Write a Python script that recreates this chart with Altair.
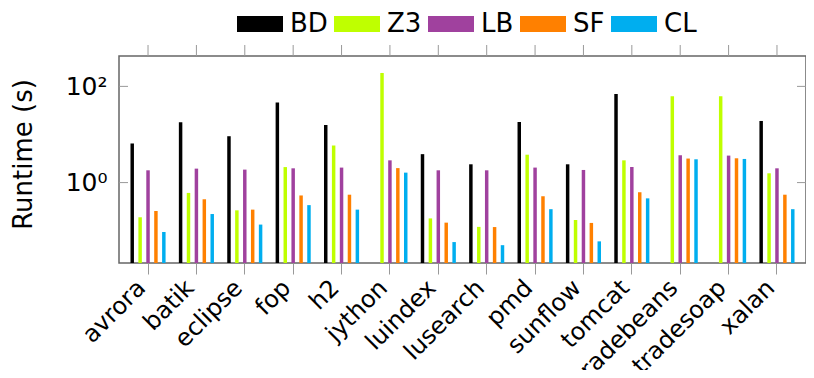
import altair as alt
import pandas as pd

categories = ["avrora", "batik", "eclipse", "fop", "h2", "jython", "luindex",
              "lusearch", "pmd", "sunflow", "tomcat", "tradebeans", "tradesoap", "xalan"]
series = ["BD", "Z3", "LB", "SF", "CL"]
colors = ["#000000", "#bfff00", "#a0419e", "#ff8000", "#00aeef"]

BD = [6.5, 17.9, 9.2, 46, 15.8, None, 3.9, 2.4, 18.2, 2.4, 69.5, None, None, 19.1]
Z3 = [0.19, 0.61, 0.265, 2.1, 5.9, 190, 0.18, 0.12, 3.8, 0.167, 2.9, 62, 62, 1.56]
LB = [1.8, 1.95, 1.86, 1.98, 2.05, 2.9, 1.8, 1.8, 2.05, 1.83, 2.1, 3.7, 3.64, 1.98]
SF = [0.257, 0.45, 0.274, 0.54, 0.56, 2.0, 0.147, 0.119, 0.52, 0.145, 0.63, 3.16, 3.2, 0.56]
CL = [0.094, 0.222, 0.134, 0.34, 0.274, 1.61, 0.058, 0.05, 0.28, 0.06, 0.47, 3.05, 3.1, 0.28]

y_ticks = [1, 100]
y_domain = [0.0213, 428]

rows = []
for name, vals in zip(series, [BD, Z3, LB, SF, CL]):
    for c, v in zip(categories, vals):
        if v is not None:
            rows.append({"bench": c, "tool": name, "runtime": v})
df = pd.DataFrame(rows)
cat_df = pd.DataFrame({"bench": categories})
tick_df = pd.DataFrame({"v": y_ticks})

W, H = 687, 207
FONT = "DejaVu Sans"

xscale = alt.Scale(domain=categories, paddingInner=0, paddingOuter=0.1)
yscale = alt.Scale(type="log", domain=y_domain, nice=False)

bars = alt.Chart(df).mark_bar().encode(
    x=alt.X("bench:N", scale=xscale,
            axis=alt.Axis(title=None, labelAngle=-45, labelAlign="right",
                          labelBaseline="middle", labelFont=FONT, labelFontSize=24,
                          labelColor="black", tickSize=11, tickColor="#999999",
                          tickWidth=1, domain=False, labelPadding=10, labelOffset=-6)),
    xOffset=alt.XOffset("tool:N",
                        scale=alt.Scale(domain=series, paddingInner=0.56, paddingOuter=0.84)),
    y=alt.Y("runtime:Q", scale=yscale, stack=None,
            axis=alt.Axis(title="Runtime (s)", values=y_ticks,
                          labelExpr="datum.value == 1 ? '10⁰' : '10²'",
                          labelFont=FONT, labelFontSize=25, labelColor="black",
                          ticks=False, grid=False, domain=False, labelPadding=12,
                          titleFont=FONT, titleFontSize=26, titleFontWeight="normal",
                          titleColor="black", titleX=-96, titleY=98, titleAngle=-90,
                          titleAlign="center", titleBaseline="middle")),
    y2=alt.datum(y_domain[0]),
    color=alt.Color("tool:N",
                    scale=alt.Scale(domain=series, range=colors),
                    legend=alt.Legend(title=None, orient="none", direction="horizontal",
                                      legendX=118, legendY=-55,
                                      symbolType="M-1,-0.348L1,-0.348L1,0.348L-1,0.348Z",
                                      symbolSize=2116, symbolStrokeWidth=0,
                                      symbolOpacity=1, labelFont=FONT, labelFontSize=26,
                                      labelColor="black", labelOffset=7,
                                      columnPadding=6, labelLimit=200)),
)

top_ticks = alt.Chart(cat_df).mark_rule(color="#999999", strokeWidth=1).encode(
    x=alt.X("bench:N", scale=xscale, bandPosition=0.5),
    y=alt.value(-11), y2=alt.value(0),
)

left_ticks = alt.Chart(tick_df).mark_rule(color="#999999", strokeWidth=1).encode(
    y=alt.Y("v:Q", scale=yscale), x=alt.value(0), x2=alt.value(9),
)
right_ticks = alt.Chart(tick_df).mark_rule(color="#999999", strokeWidth=1).encode(
    y=alt.Y("v:Q", scale=yscale), x=alt.value(W - 9), x2=alt.value(W),
)

chart = alt.layer(bars, top_ticks, left_ticks, right_ticks).properties(
    width=W, height=H,
    autosize=alt.AutoSizeParams(type="none"),
    padding={"left": 111, "top": 48, "right": 0, "bottom": 107},
).configure_view(stroke="#666666", strokeWidth=1.5)

chart.save("out.html", embed_options={"renderer": "svg", "actions": False})
